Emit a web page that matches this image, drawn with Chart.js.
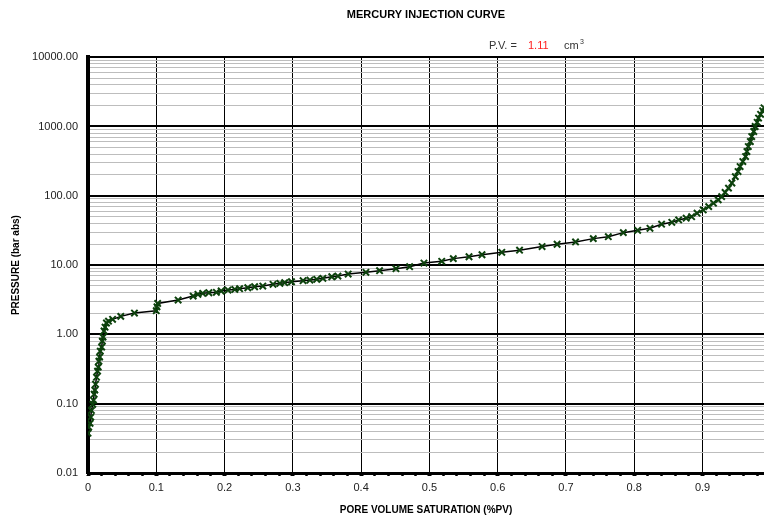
<!DOCTYPE html>
<html lang="en">
<head>
    <meta charset="UTF-8">
    <title>Mercury Injection Curve</title>
    <script src="https://cdn.jsdelivr.net/npm/chart.js"></script>
    <style>
        body {
            margin: 0;
            background: #fff;
            overflow: hidden;
        }
        canvas {
            display: block;
        }
    </style>
</head>
<body>
    <canvas id="chartCanvas" width="764" height="518"></canvas>

    <script>
        // pore volume saturation (fraction) and injection pressure (bar abs)
        const saturation = [
            0.000, 0.001, 0.003, 0.004, 0.005, 0.007, 0.008, 0.009, 0.010, 0.011,
            0.0125, 0.014, 0.015, 0.016, 0.017, 0.018, 0.020, 0.021, 0.022, 0.0235,
            0.025, 0.027, 0.030, 0.036, 0.048, 0.068, 0.100, 0.101, 0.102, 0.132,
            0.154, 0.161, 0.168, 0.177, 0.188, 0.195, 0.205, 0.215, 0.222, 0.234,
            0.244, 0.256, 0.271, 0.281, 0.288, 0.298, 0.315, 0.325, 0.335, 0.344,
            0.357, 0.366, 0.381, 0.407, 0.427, 0.451, 0.471, 0.492, 0.518, 0.535,
            0.558, 0.577, 0.606, 0.632, 0.665, 0.687, 0.714, 0.740, 0.762, 0.784,
            0.805, 0.823, 0.840, 0.855, 0.865, 0.876, 0.884, 0.892, 0.901, 0.909,
            0.916, 0.923, 0.928, 0.933, 0.938, 0.943, 0.948, 0.952, 0.955, 0.959,
            0.963, 0.965, 0.967, 0.970, 0.972, 0.975, 0.977, 0.980, 0.982, 0.985,
            0.988, 0.990
        ];
        const pressure = [
            0.0375, 0.046, 0.052, 0.064, 0.080, 0.098, 0.112, 0.137, 0.157, 0.191,
            0.241, 0.295, 0.336, 0.411, 0.470, 0.574, 0.655, 0.80, 0.914, 1.12,
            1.27, 1.46, 1.55, 1.65, 1.82, 2.03, 2.2, 2.5, 2.8, 3.13,
            3.57, 3.79, 3.92, 3.99, 4.05, 4.23, 4.37, 4.45, 4.56, 4.71,
            4.87, 4.99, 5.28, 5.46, 5.57, 5.75, 5.95, 6.09, 6.23, 6.44,
            6.79, 6.95, 7.43, 7.87, 8.30, 8.87, 9.48, 10.7, 11.35, 12.4,
            13.2, 14.1, 15.3, 16.4, 18.5, 20.0, 21.6, 24.1, 25.7, 29.4,
            31.8, 34.0, 38.9, 41.5, 44.8, 47.5, 50, 56.1, 62.5, 69.8,
            78.2, 87.3, 97.3, 112, 129, 153, 189, 224, 264, 312,
            368, 435, 514, 607, 716, 847, 1000, 1150, 1322, 1500,
            1683, 1862
        ];

        const yDecades = [0.01, 0.1, 1, 10, 100, 1000, 10000];
        const yTickLabels = ["0.01", "0.10", "1.00", "10.00", "100.00", "1000.00", "10000.00"];
        const xTickLabels = ["0", "0.1", "0.2", "0.3", "0.4", "0.5", "0.6", "0.7", "0.8", "0.9"];
        const poreVolume = "1.11";

        const FONT = "'Liberation Sans', Arial, sans-serif";

        function isMajorX(v) {
            return Math.abs(v * 10 - Math.round(v * 10)) < 1e-6;
        }
        function isDecade(v) {
            const l = Math.log10(v);
            return Math.abs(l - Math.round(l)) < 1e-6;
        }

        // P.V. note above the plot
        const pvNote = {
            id: "pvNote",
            afterDraw(chart) {
                const ctx = chart.ctx;
                ctx.save();
                ctx.font = "11px " + FONT;
                ctx.textBaseline = "middle";
                ctx.fillStyle = "#333";
                ctx.fillText("P.V. =", 489, 46);
                ctx.fillStyle = "#ff2020";
                ctx.fillText(poreVolume, 528, 46);
                ctx.fillStyle = "#333";
                ctx.fillText("cm", 564, 46);
                ctx.font = "7px " + FONT;
                ctx.fillText("3", 580, 42);
                ctx.restore();
            }
        };

        const ctx = document.getElementById("chartCanvas").getContext("2d");
        const chart = new Chart(ctx, {
            type: "line",
            data: {
                datasets: [{
                    label: "Mercury injection",
                    data: saturation.map((s, i) => ({ x: s, y: pressure[i] })),
                    borderColor: "#000",
                    borderWidth: 1.5,
                    tension: 0,
                    fill: false,
                    pointStyle: "crossRot",
                    pointRadius: 4.5,
                    pointBorderWidth: 2,
                    pointBorderColor: "#0d420d",
                    pointBackgroundColor: "#0d420d"
                }]
            },
            options: {
                responsive: false,
                animation: false,
                devicePixelRatio: 1,
                layout: { padding: 0, autoPadding: false },
                plugins: {
                    legend: { display: false },
                    tooltip: { enabled: false },
                    title: {
                        display: true,
                        text: "MERCURY INJECTION CURVE",
                        fullSize: false,
                        color: "#000",
                        font: { family: FONT, size: 11, weight: "bold" },
                        padding: { top: 8, bottom: 36 }
                    }
                },
                scales: {
                    x: {
                        type: "linear",
                        min: 0,
                        max: 0.99,
                        afterBuildTicks: (scale) => {
                            const ticks = [];
                            for (let i = 0; i <= 49; i++) ticks.push({ value: i / 50 });
                            scale.ticks = ticks;
                        },
                        afterFit: (scale) => {
                            scale.height = 45;
                            scale.paddingRight = 0;
                        },
                        ticks: {
                            autoSkip: false,
                            maxRotation: 0,
                            padding: 5,
                            color: "#222",
                            font: { family: FONT, size: 11 },
                            callback: (v) => isMajorX(v) ? xTickLabels[Math.round(v * 10)] : ""
                        },
                        grid: {
                            color: (c) => (c.tick && isMajorX(c.tick.value) && c.tick.value > 0) ? "#000" : "rgba(0,0,0,0)",
                            lineWidth: 1,
                            tickColor: "#000",
                            tickLength: 3,
                            tickWidth: (c) => (c.tick && isMajorX(c.tick.value)) ? 4 : 2.5
                        },
                        border: { color: "#000", width: 3 },
                        title: {
                            display: true,
                            text: "PORE VOLUME SATURATION (%PV)",
                            color: "#000",
                            font: { family: FONT, size: 10, weight: "bold" },
                            padding: { top: 4, bottom: 2 }
                        }
                    },
                    y: {
                        type: "logarithmic",
                        min: 0.01,
                        max: 10000,
                        afterBuildTicks: (scale) => {
                            const ticks = [];
                            yDecades.forEach((d, i) => {
                                ticks.push({ value: d, major: true });
                                if (i < yDecades.length - 1) {
                                    for (let m = 2; m <= 9; m++) ticks.push({ value: d * m });
                                }
                            });
                            scale.ticks = ticks;
                        },
                        afterFit: (scale) => { scale.width = 88; },
                        ticks: {
                            autoSkip: false,
                            padding: 10,
                            color: "#222",
                            font: { family: FONT, size: 11 },
                            callback: (v) => {
                                if (!isDecade(v)) return "";
                                return yTickLabels[Math.round(Math.log10(v)) + 2];
                            }
                        },
                        grid: {
                            drawTicks: false,
                            color: (c) => (c.tick && isDecade(c.tick.value)) ? "#000" : "#bdbdbd",
                            lineWidth: (c) => (c.tick && isDecade(c.tick.value)) ? 2 : 1
                        },
                        border: { color: "#000", width: 4 },
                        title: {
                            display: true,
                            text: "PRESSURE (bar abs)",
                            color: "#000",
                            font: { family: FONT, size: 10, weight: "bold" },
                            padding: { top: 10, bottom: 0 }
                        }
                    }
                }
            },
            plugins: [pvNote]
        });
    </script>
</body>
</html>
